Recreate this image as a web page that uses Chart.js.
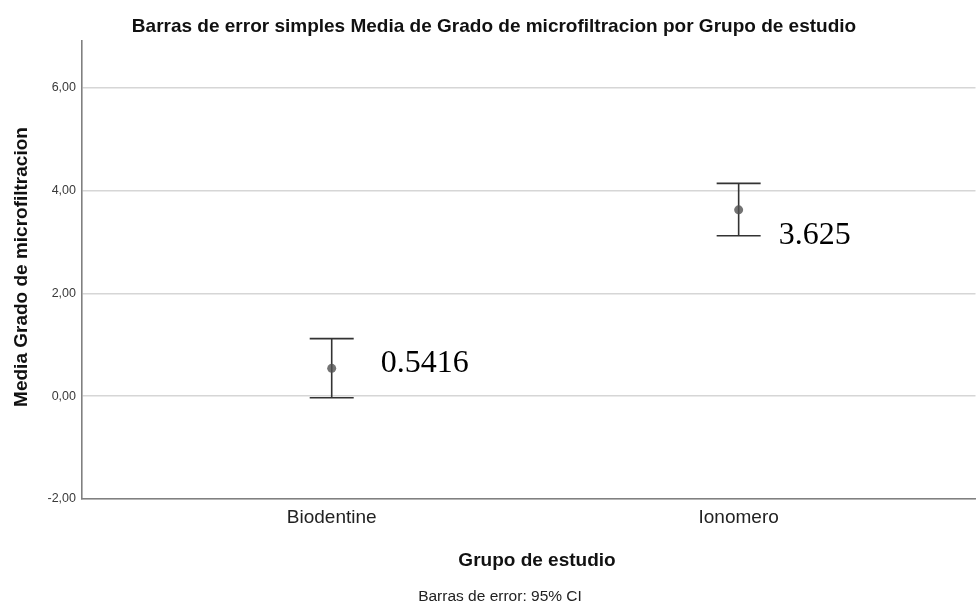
<!DOCTYPE html>
<html>
<head>
<meta charset="utf-8">
<title>Barras de error simples</title>
<script src="https://cdn.jsdelivr.net/npm/chart.js@4.4.1/dist/chart.umd.min.js"></script>
<style>
  html, body { margin: 0; padding: 0; background: #fff; overflow: hidden; }
  canvas { display: block; }
</style>
</head>
<body>
<canvas id="errChart" width="980" height="605"></canvas>
<script>
// groups and their mean / 95% CI
const groups = ["Biodentine", "Ionomero"];
const means = [0.5416, 3.625];
const ciLow = [-0.03, 3.12];
const ciHigh = [1.12, 4.14];
const yTicks = [-2, 0, 2, 4, 6];

const SANS = "'Liberation Sans', Arial, sans-serif";
Chart.defaults.font.family = SANS;

// whiskers with caps, drawn under the mean points
const errorBars = {
    id: 'errorBars',
    beforeDatasetsDraw(chart) {
        const ctx = chart.ctx;
        const xs = chart.scales.x, ys = chart.scales.y;
        ctx.save();
        ctx.strokeStyle = '#333';
        ctx.lineWidth = 1.6;
        for (let i = 0; i < groups.length; i++) {
            const px = xs.getPixelForValue(i);
            const top = ys.getPixelForValue(ciHigh[i]);
            const bot = ys.getPixelForValue(ciLow[i]);
            ctx.beginPath();
            ctx.moveTo(px, top); ctx.lineTo(px, bot);
            ctx.moveTo(px - 22, top); ctx.lineTo(px + 22, top);
            ctx.moveTo(px - 22, bot); ctx.lineTo(px + 22, bot);
            ctx.stroke();
        }
        ctx.restore();
    }
};

// value labels beside the means, plus title, axis titles and footnote
const textBits = {
    id: 'textBits',
    afterDatasetsDraw(chart, args, opts) {
        const ctx = chart.ctx;
        const xs = chart.scales.x, ys = chart.scales.y;
        ctx.save();
        ctx.fillStyle = '#000';
        ctx.font = "32px 'Liberation Serif', 'Times New Roman', serif";
        ctx.textAlign = 'left';
        ctx.textBaseline = 'alphabetic';
        for (let i = 0; i < means.length; i++) {
            const off = opts.labelOffsets[i];
            ctx.fillText(String(means[i]), xs.getPixelForValue(i) + off[0], ys.getPixelForValue(means[i]) + off[1]);
        }

        ctx.textAlign = 'center';
        ctx.fillStyle = '#111';
        ctx.font = 'bold 19px ' + SANS;
        ctx.fillText('Barras de error simples Media de Grado de microfiltracion por Grupo de estudio', 494, 31.5);
        ctx.fillText('Grupo de estudio', 537, 566);

        ctx.save();
        ctx.translate(27, 267);
        ctx.rotate(-Math.PI / 2);
        ctx.fillText('Media Grado de microfiltracion', 0, 0);
        ctx.restore();

        ctx.font = '15.5px ' + SANS;
        ctx.fillStyle = '#222';
        ctx.fillText('Barras de error: 95% CI', 500, 601);
        ctx.restore();
    }
};

new Chart(document.getElementById('errChart'), {
    type: 'scatter',
    data: {
        datasets: [{
            data: means.map((m, i) => ({x: i, y: m})),
            pointRadius: 4.5,
            pointBackgroundColor: 'rgba(80,80,80,0.8)',
            pointBorderWidth: 0,
            showLine: false
        }]
    },
    options: {
        responsive: false,
        animation: false,
        layout: { padding: { top: 41, left: 0, right: 0, bottom: 0 } },
        plugins: {
            legend: { display: false },
            tooltip: { enabled: false },
            textBits: { labelOffsets: [[49, 4], [40, 34]] }
        },
        scales: {
            x: {
                type: 'linear',
                min: -0.6136,
                max: 1.582,
                afterFit: s => { s.height = 106; s.paddingLeft = 0; s.paddingRight = 0; },
                afterBuildTicks: s => { s.ticks = groups.map((g, i) => ({value: i})); },
                grid: { display: false, drawTicks: false },
                border: { color: '#808080', width: 1.6 },
                ticks: {
                    padding: 7,
                    color: '#222',
                    font: { size: 19 },
                    callback: v => groups[v]
                }
            },
            y: {
                min: -2,
                max: 6.91,
                afterFit: s => { s.width = 82; s.paddingTop = 0; s.paddingBottom = 0; },
                afterBuildTicks: s => { s.ticks = yTicks.map(v => ({value: v})); },
                grid: { color: '#d6d6d6', lineWidth: 1.5, drawTicks: false },
                border: { color: '#808080', width: 1.6 },
                ticks: {
                    padding: 6,
                    color: '#3a3a3a',
                    font: { size: 12.5 },
                    callback: v => v.toFixed(2).replace('.', ',')
                }
            }
        }
    },
    plugins: [errorBars, textBits]
});
</script>
</body>
</html>
